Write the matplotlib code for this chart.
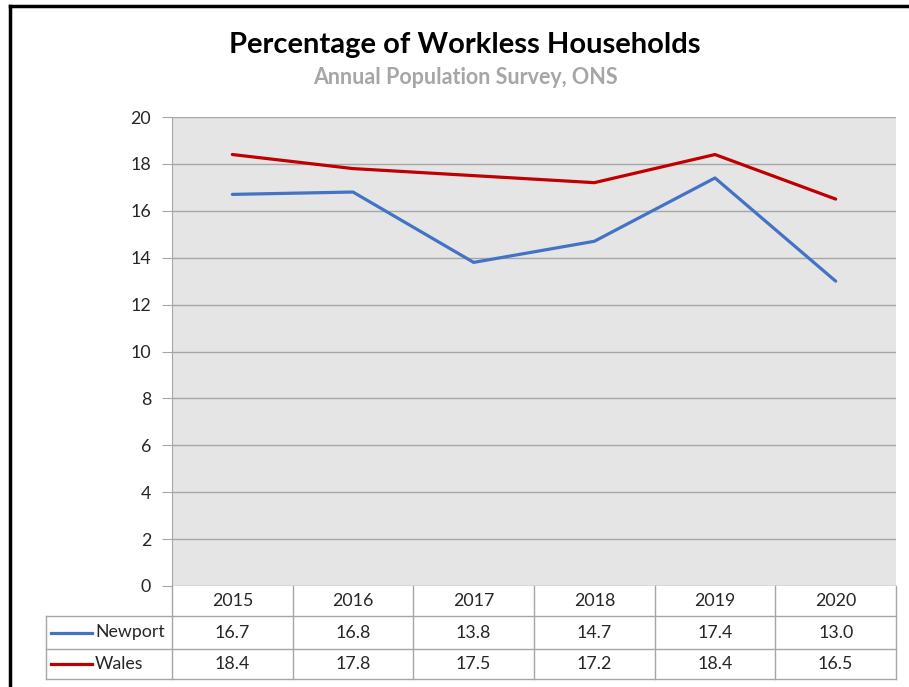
import matplotlib.pyplot as plt
from matplotlib.lines import Line2D

years = ['2015', '2016', '2017', '2018', '2019', '2020']
newport = [16.7, 16.8, 13.8, 14.7, 17.4, 13.0]
wales = [18.4, 17.8, 17.5, 17.2, 18.4, 16.5]
series_names = ['Newport', 'Wales']
y_ticks = [0, 2, 4, 6, 8, 10, 12, 14, 16, 18, 20]

W, H = 909, 687
BLUE = '#4472C4'
RED = '#C00000'
GRID = '#A6A6A6'
TXT = '#262626'
FS = 12.8

plt.rcParams['font.family'] = ['Lato', 'DejaVu Sans']

fig = plt.figure(figsize=(W / 100, H / 100), dpi=100)

def fx(px):
    return px / W

def fy(py):
    return 1 - py / H

# plot area in pixel coords
left, right, top, bottom = 172, 896, 117, 586
ax = fig.add_axes([fx(left), fy(bottom), fx(right - left), fy(top) - fy(bottom)])
ax.set_facecolor('#E5E5E5')
x = range(len(years))
ax.plot(x, newport, color=BLUE, lw=2.3, solid_capstyle='round')
ax.plot(x, wales, color=RED, lw=2.3, solid_capstyle='round')
ax.set_xlim(-0.5, len(years) - 0.5)
ax.set_ylim(0, 20)
ax.set_yticks(y_ticks)
ax.set_yticklabels([str(t) for t in y_ticks], fontsize=FS, color=TXT)
ax.set_xticks([])
ax.grid(axis='y', color=GRID, lw=1)
ax.set_axisbelow(True)
for s in ['top', 'right', 'bottom']:
    ax.spines[s].set_visible(False)
ax.spines['left'].set_color(GRID)
ax.tick_params(axis='y', length=7, color=GRID, pad=8)

# data table below the plot
col_w = (right - left) / len(years)
row_y = [586, 616, 649, 679]
tl = dict(color=GRID, lw=1, transform=fig.transFigure)
for ry in row_y[1:]:
    fig.add_artist(Line2D([fx(46), fx(right)], [fy(ry), fy(ry)], **tl))
fig.add_artist(Line2D([fx(46), fx(46)], [fy(row_y[1]), fy(row_y[3])], **tl))
for i in range(len(years) + 1):
    cx = left + i * col_w
    fig.add_artist(Line2D([fx(cx), fx(cx)], [fy(row_y[0]), fy(row_y[3])], **tl))

rows = [newport, wales]
colors = [BLUE, RED]
for i, yr in enumerate(years):
    cx = left + (i + 0.5) * col_w
    fig.text(fx(cx), fy((row_y[0] + row_y[1]) / 2), yr, ha='center', va='center',
             fontsize=FS, color=TXT)
    for r, vals in enumerate(rows):
        cy = (row_y[r + 1] + row_y[r + 2]) / 2
        fig.text(fx(cx), fy(cy), f'{vals[i]:.1f}', ha='center', va='center',
                 fontsize=FS, color=TXT)
for r, name in enumerate(series_names):
    cy = (row_y[r + 1] + row_y[r + 2]) / 2
    fig.add_artist(Line2D([fx(51), fx(92)], [fy(cy), fy(cy)], color=colors[r], lw=2.3,
                          transform=fig.transFigure))
    fig.text(fx(95), fy(cy), name, ha='left', va='center', fontsize=FS, color=TXT)

# titles
fig.text(fx(465), fy(45), 'Percentage of Workless Households', ha='center', va='center',
         fontsize=21, fontweight='bold', color='black')
fig.text(fx(465), fy(77), 'Annual Population Survey, ONS', ha='center', va='center',
         fontsize=15.5, fontweight='bold', color='#A6A6A6')

# outer frame
bk = dict(color='black', lw=2.5, transform=fig.transFigure)
fig.add_artist(Line2D([fx(10), fx(W)], [fy(6), fy(6)], **bk))
fig.add_artist(Line2D([fx(10), fx(10)], [fy(6), 0], **bk))

fig.savefig('out.png', dpi=100)
